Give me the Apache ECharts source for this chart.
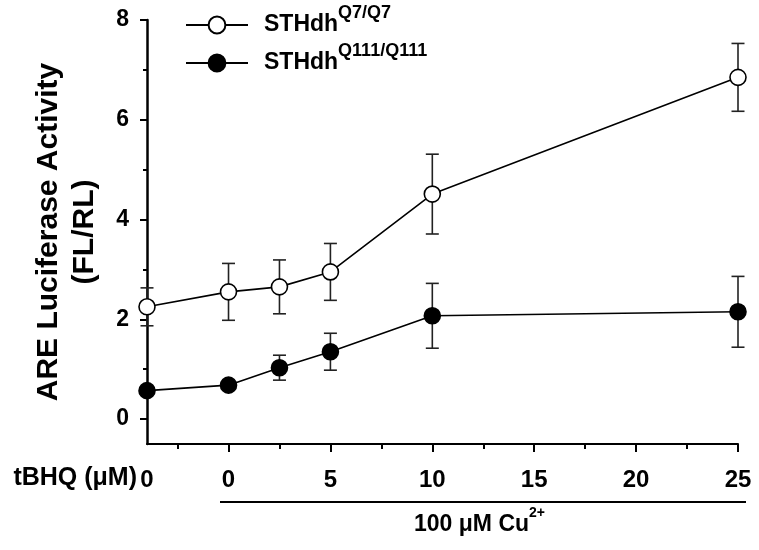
<!DOCTYPE html>
<html><head><meta charset="utf-8">
<script src="https://cdn.jsdelivr.net/npm/echarts@6/dist/echarts.min.js"></script>
<style>html,body{margin:0;padding:0;background:#fff}#c{width:759px;height:550px}</style>
</head><body><div id="c"></div>
<script>
// ---- data ----
const xPositions = [-4, 0, 2.5, 5, 10, 25];          // -4 = tBHQ 0 without Cu
const xLabelValues = [-4, 0, 5, 10, 15, 20, 25];
const xLabelTexts = ['0', '0', '5', '10', '15', '20', '25'];
const xMajorTicks = [0, 5, 10, 15, 20, 25];
const xMinorTicks = [-2.5, 2.5, 7.5, 12.5, 17.5, 22.5];
const yMajorTicks = [0, 2, 4, 6, 8];
const yMinorTicks = [1, 3, 5, 7];
const q7Mean = [2.25, 2.55, 2.65, 2.95, 4.51, 6.85];
const q7Err = [0.38, 0.57, 0.54, 0.57, 0.80, 0.68];
const q111Mean = [0.57, 0.68, 1.03, 1.35, 2.07, 2.15];
const q111Err = [0.04, 0.04, 0.25, 0.37, 0.65, 0.71];
const seriesNames = ['STHdh^Q7/Q7', 'STHdh^Q111/Q111'];
const yTitle = 'ARE Luciferase Activity\n(FL/RL)';
const xLeftTitle = 'tBHQ (μM)';
const cuLabel = '100 μM Cu';
const cuSup = '2+';

const FONT = '"Liberation Sans", Arial, Helvetica, sans-serif';
const chart = echarts.init(document.getElementById('c'), null, {renderer: 'canvas'});

function pts(means) { return xPositions.map((x, i) => [x, means[i]]); }
function errs(means, e) { return xPositions.map((x, i) => [x, means[i] - e[i], means[i] + e[i]]); }

function errRender(params, api) {
  const x = api.value(0), lo = api.value(1), hi = api.value(2);
  const p1 = api.coord([x, hi]), p2 = api.coord([x, lo]);
  const w = 6.5;
  const st = {stroke: '#222', lineWidth: 1.6};
  return {type: 'group', children: [
    {type: 'line', shape: {x1: p1[0], y1: p1[1], x2: p2[0], y2: p2[1]}, style: st},
    {type: 'line', shape: {x1: p1[0] - w, y1: p1[1], x2: p1[0] + w, y2: p1[1]}, style: st},
    {type: 'line', shape: {x1: p2[0] - w, y1: p2[1], x2: p2[0] + w, y2: p2[1]}, style: st}
  ]};
}

const legendFmt = n => { const p = n.split('^'); return '{a|' + p[0] + '}{b|' + p[1] + '}'; };
const legendRich = {
  a: {fontFamily: FONT, fontWeight: 'bold', fontSize: 23, color: '#000', lineHeight: 41, verticalAlign: 'middle', padding: [0, 0, 0, 11]},
  b: {fontFamily: FONT, fontWeight: 'bold', fontSize: 18, color: '#000', lineHeight: 18, verticalAlign: 'top'}
};

const axisBase = {
  type: 'value', min: -4, max: 25, gridIndex: 0, position: 'bottom',
  splitLine: {show: false}
};

chart.setOption({
  animation: false,
  backgroundColor: '#fff',
  grid: {left: 147, right: 21, top: 20, bottom: 106},
  legend: [0, 1].map(i => ({
    data: [seriesNames[i]], orient: 'horizontal', left: 185, top: i === 0 ? 4.5 : 42.5,
    itemWidth: 62, itemHeight: 21, padding: 0,
    formatter: legendFmt, textStyle: {rich: legendRich}, selectedMode: false
  })),
  xAxis: [
    Object.assign({}, axisBase, {
      axisLine: {onZero: false, lineStyle: {color: '#000', width: 2}},
      axisTick: {show: true, customValues: xMajorTicks, length: 8, lineStyle: {color: '#000', width: 2}},
      axisLabel: {customValues: xLabelValues, margin: 24, color: '#000', fontFamily: FONT, fontWeight: 'bold', fontSize: 24,
        formatter: v => xLabelTexts[xLabelValues.indexOf(v)]}
    }),
    Object.assign({}, axisBase, {
      axisLine: {show: false, onZero: false},
      axisTick: {show: true, customValues: xMinorTicks, length: 5, lineStyle: {color: '#000', width: 2}},
      axisLabel: {show: false}
    })
  ],
  yAxis: [
    {type: 'value', min: -0.5, max: 8, position: 'left', splitLine: {show: false},
      axisLine: {show: true, onZero: false, lineStyle: {color: '#000', width: 2.5}},
      axisTick: {show: true, customValues: yMajorTicks, length: 7, lineStyle: {color: '#000', width: 2}},
      axisLabel: {customValues: yMajorTicks, margin: 18, color: '#000', fontFamily: FONT, fontWeight: 'bold', fontSize: 23},
      name: yTitle, nameLocation: 'middle', nameGap: 44, nameRotate: 90,
      nameTextStyle: {color: '#000', fontFamily: FONT, fontWeight: 'bold', fontSize: 30, lineHeight: 36}
    },
    {type: 'value', min: -0.5, max: 8, position: 'left', splitLine: {show: false},
      axisLine: {show: false, onZero: false},
      axisTick: {show: true, customValues: yMinorTicks, length: 4, lineStyle: {color: '#000', width: 2}},
      axisLabel: {show: false}
    }
  ],
  series: [
    {type: 'custom', name: 'err0', renderItem: errRender, data: errs(q7Mean, q7Err), encode: {x: 0, y: [1, 2]}, z: 1, silent: true},
    {type: 'custom', name: 'err1', renderItem: errRender, data: errs(q111Mean, q111Err), encode: {x: 0, y: [1, 2]}, z: 1, silent: true},
    {type: 'line', name: seriesNames[0], data: pts(q7Mean), symbol: 'circle', symbolSize: 16, z: 3,
      lineStyle: {color: '#000', width: 1.6}, itemStyle: {color: '#fff', borderColor: '#000', borderWidth: 1.6}},
    {type: 'line', name: seriesNames[1], data: pts(q111Mean), symbol: 'circle', symbolSize: 16, z: 3,
      lineStyle: {color: '#000', width: 1.6}, itemStyle: {color: '#000', borderColor: '#000', borderWidth: 1.6}}
  ],
  graphic: [
    {type: 'text', right: 759 - 137, top: 466,
      style: {text: xLeftTitle, fill: '#000', font: 'bold 25px ' + FONT}},
    {type: 'line', shape: {x1: 220, y1: 502, x2: 746, y2: 502}, style: {stroke: '#000', lineWidth: 2.2}},
    {type: 'text', left: 414, top: 506,
      style: {text: '{a|' + cuLabel + '}{b|' + cuSup + '}',
        rich: {a: {font: 'bold 23px ' + FONT, fill: '#000', lineHeight: 30, verticalAlign: 'bottom'},
               b: {font: 'bold 14px ' + FONT, fill: '#000', lineHeight: 14, verticalAlign: 'top'}}}}
  ]
});
</script></body></html>
